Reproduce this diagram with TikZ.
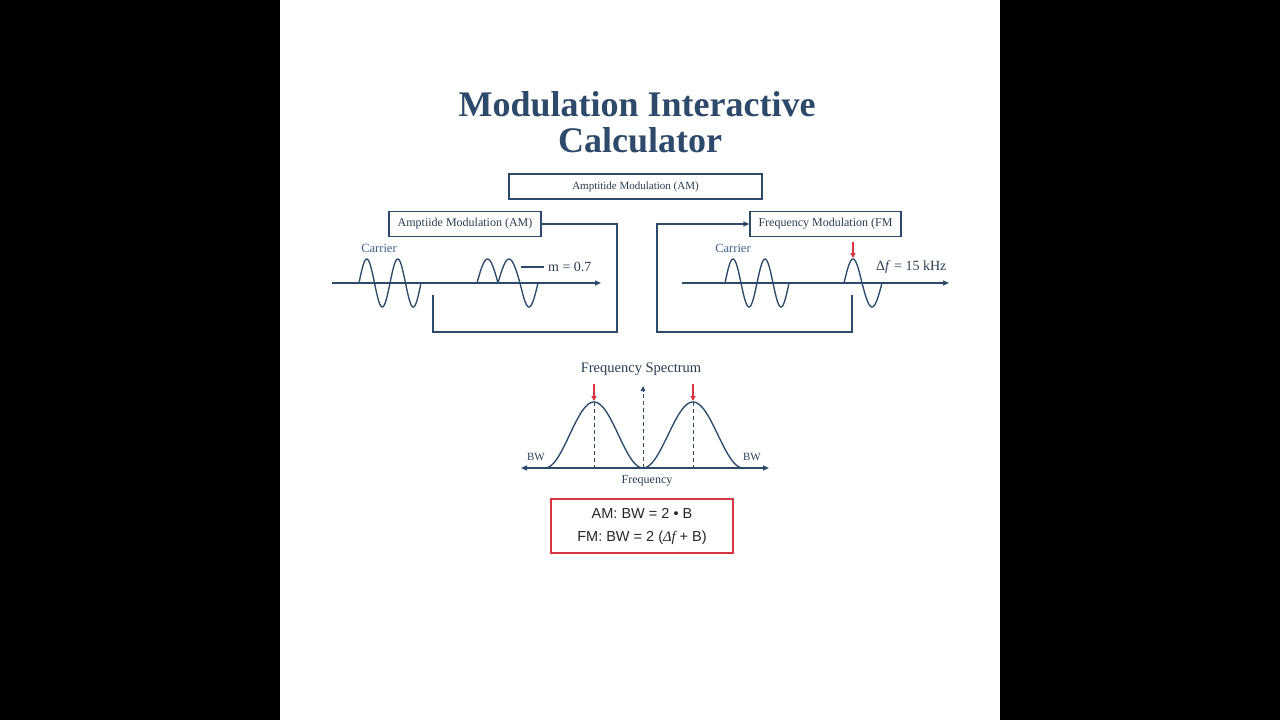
\documentclass[tikz,border=0pt]{standalone}
\usepackage{fontspec}
\setmainfont{Liberation Serif}
\newfontfamily\sansf{Liberation Sans}
\newfontfamily\seriff{Liberation Serif}
\usetikzlibrary{arrows.meta}
\definecolor{navy}{HTML}{2E4A6B}
\definecolor{boxtext}{HTML}{2B3D52}
\definecolor{carrierc}{HTML}{3D6189}
\definecolor{redc}{HTML}{D9343F}
\tikzset{
  ln/.style={draw=navy, line width=1.3pt},
  wave/.style={draw=navy, line width=1.35pt, line join=round},
  axisarrow/.style={ln, -{Triangle[length=6pt,width=5pt]}},
  axisboth/.style={ln, {Triangle[length=6pt,width=5pt]}-{Triangle[length=6pt,width=5pt]}},
  panelbox/.style={draw=navy, line width=1.2pt, fill=white, text=boxtext, inner sep=0pt,
    font=\fontsize{12}{14}\selectfont},
  titletext/.style={text=navy, font=\fontsize{36}{36}\selectfont\bfseries, inner sep=0pt, anchor=base},
  carrierlbl/.style={text=carrierc, font=\fontsize{12.5}{14}\selectfont, inner sep=0pt},
  lbl/.style={text=boxtext, inner sep=0pt},
  redarrow/.style={draw=redc, line width=1.2pt, -{Triangle[length=5pt,width=5pt]}},
  dashedln/.style={draw=navy, line width=1pt, dashed, dash pattern=on 4pt off 3pt},
}
\begin{document}
\begin{tikzpicture}[x=1pt,y=-1pt]
\useasboundingbox (0,0) rectangle (1280,720);
\fill[black] (0,0) rectangle (280,720);
\fill[black] (1000,0) rectangle (1280,720);
\fill[white] (280,0) rectangle (1000,720);

% title
\node[titletext] (title1) at (637,116) {Modulation Interactive};
\node[titletext] (title2) at (640,152) {Calculator};

% top box
\node[panelbox, minimum width=253, minimum height=25, font=\fontsize{11}{13}\selectfont] (topbox) at (635.5,186.5) {Amptitide Modulation (AM)};

% left panel
\node[panelbox, minimum width=152, minimum height=25] (lbox) at (465,224) {Amptiide Modulation (AM)};
\coordinate (lc2) at (617,332);
\coordinate (lc3) at (433,332);
\coordinate (lend) at (433,295);
\draw[ln] (lbox.east) -| (lc2) -- (lc3) -- (lend);

\coordinate (la0) at (332,283);
\coordinate (la1) at (601,283);
\draw[axisarrow] (la0) -- (la1);
\node[carrierlbl] (lcarrier) at (379,248) {Carrier};

\draw[wave] plot[domain=359:421, samples=90] (\x,{283-24*sin((\x-359)/31*360)});
\draw[wave] plot[domain=477:498, samples=30] (\x,{283-24*sin((\x-477)/21*180)})
  -- plot[domain=498:520, samples=30] (\x,{283-24*sin((\x-498)/22*180)})
  -- plot[domain=520:538, samples=30] (\x,{283+24*sin((\x-520)/18*180)});

\coordinate (mline) at (521,267);
\node[lbl, anchor=west, font=\fontsize{14}{16}\selectfont] (mlab) at (548,267) {m = 0.7};
\draw[ln, line width=1.1pt] (mline) -- ([xshift=-4pt]mlab.west);

% right panel
\node[panelbox, minimum width=151, minimum height=25] (rbox) at (825.5,224) {Frequency Modulation (FM};
\coordinate (rstart) at (852,295);
\coordinate (rc1) at (852,332);
\coordinate (rc2) at (657,332);
\draw[ln, -{Triangle[length=6pt,width=5pt]}] (rstart) -- (rc1) -- (rc2) |- (rbox.west);

\coordinate (ra0) at (682,283);
\coordinate (ra1) at (949,283);
\draw[axisarrow] (ra0) -- (ra1);
\node[carrierlbl] (rcarrier) at (733,248) {Carrier};

\draw[wave] plot[domain=725:789, samples=90] (\x,{283-24*sin((\x-725)/32*360)});
\draw[wave] plot[domain=844:862, samples=30] (\x,{283-24*sin((\x-844)/18*180)})
  -- plot[domain=862:882, samples=30] (\x,{283+24*sin((\x-862)/20*180)});

\coordinate (rr0) at (853,242);
\coordinate (rr1) at (853,258);
\draw[redarrow] (rr0) -- (rr1);
\node[lbl, anchor=west, font=\fontsize{14}{16}\selectfont] (dflab) at (876,267) {Δ\textit{f} = 15 kHz};

% spectrum
\node[lbl, font=\fontsize{14.5}{16}\selectfont] (spectitle) at (641,369) {Frequency Spectrum};
\coordinate (sa0) at (521,468);
\coordinate (sa1) at (769,468);
\draw[axisboth] (sa0) -- (sa1);

\draw[wave] plot[domain=545:643, samples=100] (\x,{468-33*(1-cos((\x-545)/98*360))});
\draw[wave] plot[domain=643:743, samples=100] (\x,{468-33*(1-cos((\x-643)/100*360))});

\coordinate (p1top) at (594,402);
\coordinate (p1bot) at (594,468);
\coordinate (p2top) at (693,402);
\coordinate (p2bot) at (693,468);
\draw[dashedln] (p1top) -- (p1bot);
\draw[dashedln] (p2top) -- (p2bot);
\coordinate (cbot) at (643,468);
\coordinate (ctop) at (643,386);
\draw[dashedln, -{Triangle[length=5pt,width=4.5pt]}] (cbot) -- (ctop);

\coordinate (sr1a) at (594,384);
\coordinate (sr1b) at (594,401);
\coordinate (sr2a) at (693,384);
\coordinate (sr2b) at (693,401);
\draw[redarrow] (sr1a) -- (sr1b);
\draw[redarrow] (sr2a) -- (sr2b);

\node[lbl, font=\fontsize{11}{13}\selectfont] (bwl) at (536,457) {BW};
\node[lbl, font=\fontsize{11}{13}\selectfont] (bwr) at (752,457) {BW};
\node[lbl, font=\fontsize{12}{14}\selectfont] (freq) at (647,481) {Frequency};

% formula box
\node[draw=redc, line width=1.2pt, fill=white, minimum width=182, minimum height=54, align=center,
  text=black!85, font=\sansf\fontsize{14.5}{23}\selectfont, inner sep=0pt] (formula) at (642,526)
  {AM: BW = 2 • B\\FM: BW = 2 ({\seriff\itshape Δf} + B)};
\end{tikzpicture}
\end{document}
